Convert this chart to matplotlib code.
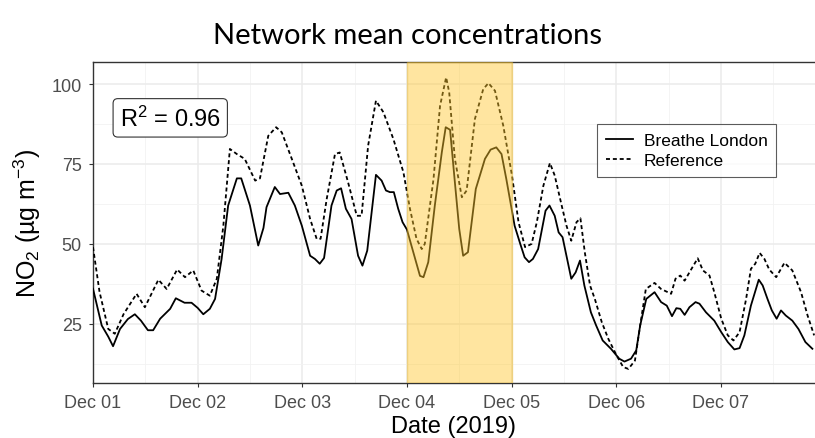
import numpy as np
import pandas as pd
import matplotlib
matplotlib.use("Agg")
import matplotlib.pyplot as plt
import matplotlib.dates as mdates

plt.rcParams['font.family'] = ['Liberation Sans', 'DejaVu Sans']
plt.rcParams['mathtext.default'] = 'regular'

start = pd.Timestamp('2019-12-01 00:00')

# hours since Dec 01 00:00 and NO2 values
bl_hours = [0, 2, 3.5, 4.6, 6.2, 8, 9.6, 11, 12.6, 13.8, 15.4, 17.7, 19, 21, 22.6, 24,
            25.3, 26.8, 28, 29.5, 31, 33, 34, 36, 37.9, 39.1, 39.8, 41.7, 42.9, 44.8,
            46.3, 47.9, 49.8, 50.9, 52, 53, 54.7, 55.9, 56.9, 58, 59.3, 60.8, 61.8,
            62.9, 64.9, 66.2, 67.2, 68.1, 69, 70, 71, 72, 73.9, 75, 75.8, 76.9, 78.4,
            80, 80.9, 81.9, 83, 84, 84.9, 86, 87.8, 89.9, 91.2, 92.5, 93.7, 94.8,
            96.7, 98, 99, 100, 100.9, 102.1, 103.8, 104.7, 105.9, 106.8, 107.7,
            109.7, 110.7, 111.7, 112.7, 114.2, 115.4, 116.9, 118.8, 120.7, 121.9,
            123.4, 124.6, 125.5, 126.9, 128.8, 130.3, 131.6, 132.8, 133.8, 134.7,
            135.7, 136.8, 138.2, 139.1, 140.6, 142.5, 144.1, 145.6, 147.1, 148.3,
            149.4, 150.9, 152.7, 153.6, 154.7, 155.7, 156.8, 157.8, 158.9, 160.4,
            161.8, 163.4, 165]
bl_values = [36, 24.5, 21, 18, 23.4, 26.5, 28, 26, 23, 23, 26.6, 29.7, 33, 31.6, 31.6, 30,
             28, 29.7, 32.8, 45.3, 62, 70.5, 70.5, 62, 49.5, 55, 61.5, 67.8, 65.6, 66,
             62, 55.7, 46.3, 45.3, 43.8, 45.6, 62, 66.7, 67.4, 61, 57.8, 46.3, 43.2,
             47.9, 71.6, 69.8, 66.7, 66.2, 66.2, 61, 56.8, 54.5, 45.3, 40, 39.6, 44.3, 62,
             78.6, 86.5, 85.7, 69.3, 54.7, 46.3, 47.4, 67.2, 76.6, 79.5, 80.2, 78.1, 70.3,
             55.7, 50, 45.8, 44.3, 45.3, 48.4, 60.4, 62, 58.8, 53.6, 52.1,
             39.1, 41.1, 44.8, 37, 28.6, 24.5, 19.8, 17.2, 14.1, 13.2,
             14.1, 16.7, 24.5, 32.8, 34.9, 31.8, 30.7, 27.4, 29.9, 29.7,
             27.8, 30.2, 31.8, 31.3, 28.6, 26, 22.4, 19.3, 17, 17.4,
             21.4, 30.7, 38.8, 37, 32.8, 29.2, 26.6, 29.2, 27.6, 26,
             23.4, 19.3, 17.2]

ref_hours = [0, 1.5, 3.5, 5, 7, 10, 11.9, 15, 16.9, 19.3, 21.1, 23, 24.9, 26.8, 28.4,
             29.9, 31.4, 33, 34.8, 37.2, 38.3, 40.2, 42, 43.3, 45.6, 47.9, 49.8, 51.3,
             52.2, 53.6, 55.5, 56.6, 58.5, 60.5, 61.6, 63.1, 64.9, 66.6, 68.9, 70.4,
             71.2, 72.7, 74.2, 75.4, 76.1, 78.1, 79.6, 81, 81.7, 83, 84.6, 85.7, 87.6,
             89.5, 90.7, 92.2, 94.1, 96.1, 97.6, 99.1, 100.6, 101.8, 103.3, 104.8,
             105.9, 107.5, 108.6, 109.7, 110.9, 111.8, 112.8, 114, 115.1, 116.7, 118.2,
             120.1, 121.6, 122.8, 124.3, 125.5, 126.8, 128.8, 130.3, 132.6, 133.6,
             134.7, 135.7, 136.8, 138.7, 139.9, 141.4, 142.5, 144.1, 145.6, 146.9,
             148.3, 149.8, 150.9, 151.9, 152.9, 154, 155.1, 156.7, 158.6, 160.4, 162.4,
             163.9, 165.4]
ref_values = [49, 35, 23.4, 21.9, 28, 34.4, 30.2, 38.8, 35.9, 42, 39.6, 41.7, 35.4, 33.8, 39.1,
              55.7, 79.7, 78.1, 76.6, 69.8, 70.5, 83.8, 86.5, 84.9, 76.6, 68.2, 57.8, 51.6,
              51.6, 64, 78.1, 78.6, 69.3, 58.8, 58.8, 80.7, 94.8, 91.2, 82.8, 76,
              72.4, 61, 51.6, 48.4, 50, 70.3, 93.2, 102.1, 97.4, 76.6, 64.6, 66.7, 89.1,
              98.4, 100.3, 97.9, 87, 71.4, 56.8, 49, 50, 56.8, 68.2, 75.3,
              71.4, 62, 55.7, 51, 56.8, 58, 47.4, 37, 32.8, 25.5, 20.3,
              15.1, 11.5, 10.9, 13.5, 24.5, 35.9, 37.8, 35.9, 34.4, 39.1,
              40.1, 38.5, 41.1, 45.5, 41.7, 40.1, 34.9, 26.6, 21.4, 19.8,
              22.4, 32.8, 42.2, 43.8, 47.2, 45.3, 42, 39.6, 44.1, 41.7, 34.9,
              27.6, 21.4]

highlight = ['2019-12-04', '2019-12-05']
y_ticks = [25, 50, 75, 100]

bl_t = start + pd.to_timedelta(bl_hours, unit='h')
ref_t = start + pd.to_timedelta(ref_hours, unit='h')

fig = plt.figure(figsize=(8.15, 4.39), dpi=100)
ax = fig.add_axes([0.1141, 0.1253, 0.8859, 0.7312])

ax.plot(bl_t, bl_values, color='black', lw=1.3, label='Breathe London', zorder=3)
ax.plot(ref_t, ref_values, color='black', lw=1.3, linestyle=(0, (2.2, 1.6)),
        label='Reference', zorder=3)

ax.axvspan(pd.Timestamp(highlight[0]), pd.Timestamp(highlight[1]),
           facecolor='#FFC72C', alpha=0.45, edgecolor='#E8B830', lw=1, zorder=4)

ax.set_xlim(start, start + pd.Timedelta(hours=165.6))
ax.set_ylim(6.5, 106.9)

ax.xaxis.set_major_locator(mdates.DayLocator())
ax.xaxis.set_minor_locator(mdates.HourLocator(byhour=12))
ax.xaxis.set_major_formatter(mdates.DateFormatter('%b %d'))
ax.set_yticks(y_ticks)
ax.set_yticks([12.5, 37.5, 62.5, 87.5], minor=True)

ax.grid(which='major', color='#EBEBEB', lw=1.1, zorder=0)
ax.grid(which='minor', color='#F2F2F2', lw=0.6, zorder=0)
ax.set_axisbelow(True)

ax.tick_params(which='major', length=3, color='#333333', labelsize=13,
               labelcolor='#4D4D4D', pad=5)
ax.tick_params(which='minor', length=0)
for s in ['left', 'bottom', 'top']:
    ax.spines[s].set_color('#333333')
    ax.spines[s].set_linewidth(1.0)
ax.spines['right'].set_visible(False)

ax.set_xlabel('Date (2019)', fontsize=17, labelpad=3)
ax.set_ylabel('NO$_2$ (µg m$^{-3}$)', fontsize=18, labelpad=6)

ax.text(0.107, 0.826, r'R$^2$ = 0.96', transform=ax.transAxes, fontsize=17,
        ha='center', va='center',
        bbox=dict(boxstyle='round,pad=0.28,rounding_size=0.2', fc='white', ec='#333333', lw=0.8))

leg = ax.legend(loc='upper left', bbox_to_anchor=(0.698, 0.807), fontsize=12.5,
                frameon=True, fancybox=False, handlelength=1.6, handletextpad=0.6,
                borderpad=0.5, labelspacing=0.3, borderaxespad=0)
leg.get_frame().set_edgecolor('#333333')
leg.get_frame().set_linewidth(0.8)

fig.text(0.5, 0.918, 'Network mean concentrations', ha='center', va='center',
         fontsize=21, family=['Lato', 'DejaVu Sans'])

fig.savefig('out.png', dpi=100)
